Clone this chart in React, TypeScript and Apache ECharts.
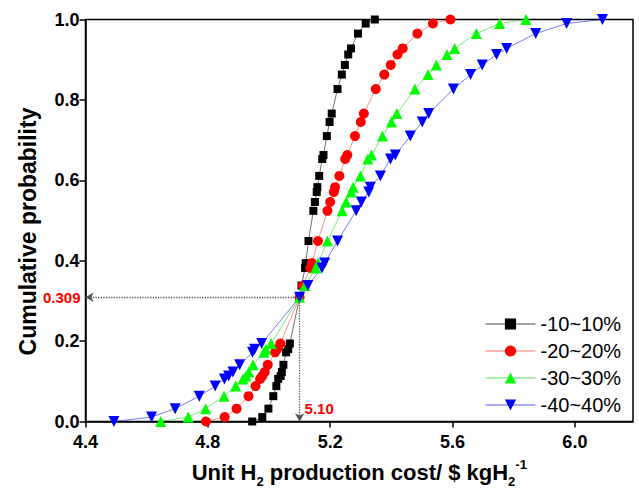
import React, { useEffect, useRef } from 'react';
import * as echarts from 'echarts';

// Cumulative probability levels (shared by all four ranges)
const probLevels = [0, 0.011, 0.032, 0.063, 0.088, 0.106, 0.113, 0.123, 0.141, 0.172, 0.18, 0.194, 0.309, 0.338, 0.382, 0.394, 0.449, 0.524, 0.546, 0.571, 0.583, 0.611, 0.653, 0.663, 0.71, 0.745, 0.766, 0.827, 0.863, 0.887, 0.913, 0.928, 0.965, 0.99, 1.0];

// Unit H2 production cost for each variation range
const cost10 = [4.945, 4.978, 4.998, 5.014, 5.024, 5.03, 5.038, 5.042, 5.047, 5.056, 5.063, 5.068, 5.1, 5.106, 5.118, 5.12, 5.129, 5.145, 5.15, 5.156, 5.158, 5.164, 5.174, 5.178, 5.189, 5.198, 5.205, 5.224, 5.238, 5.248, 5.259, 5.268, 5.291, 5.316, 5.346];
const cost20 = [4.794, 4.855, 4.894, 4.933, 4.956, 4.971, 4.978, 4.986, 4.996, 5.02, 5.026, 5.037, 5.1, 5.111, 5.135, 5.14, 5.16, 5.191, 5.2, 5.212, 5.216, 5.23, 5.249, 5.256, 5.281, 5.3, 5.31, 5.349, 5.377, 5.398, 5.42, 5.437, 5.485, 5.536, 5.593];
const cost30 = [4.646, 4.736, 4.793, 4.853, 4.891, 4.915, 4.925, 4.934, 4.948, 4.983, 4.99, 5.007, 5.1, 5.117, 5.153, 5.16, 5.191, 5.239, 5.252, 5.268, 5.275, 5.299, 5.323, 5.335, 5.371, 5.4, 5.418, 5.477, 5.52, 5.547, 5.582, 5.607, 5.678, 5.754, 5.84];
const cost40 = [4.493, 4.616, 4.693, 4.772, 4.824, 4.854, 4.868, 4.882, 4.904, 4.946, 4.953, 4.976, 5.1, 5.127, 5.173, 5.182, 5.224, 5.285, 5.302, 5.326, 5.331, 5.364, 5.397, 5.413, 5.462, 5.501, 5.522, 5.603, 5.659, 5.697, 5.744, 5.777, 5.872, 5.973, 6.09];

const seriesNames = ['-10~10%', '-20~20%', '-30~30%', '-40~40%'];
const markX = 5.1;
const markY = 0.309;
const markXLabel = '5.10';
const markYLabel = '0.309';

const FONT = 'Arial, "Liberation Sans", sans-serif';

export default function App() {
  const ref = useRef<HTMLDivElement>(null);
  useEffect(() => {
    document.body.style.margin = '0';
    const chart = echarts.init(ref.current!, null, { renderer: 'svg' });
    const mk = (xs: number[]) => xs.map((x, i) => [x, probLevels[i]]);
    const option: any = {
      animation: false,
      backgroundColor: '#fff',
      textStyle: { fontFamily: FONT },
      grid: {
        left: 85.5, right: 6, top: 19.5, bottom: 77.5,
        show: true, borderColor: '#000', borderWidth: 1.5, backgroundColor: 'transparent',
      },
      legend: {
        data: seriesNames,
        orient: 'vertical',
        left: 480,
        top: 309,
        itemWidth: 50,
        itemHeight: 14,
        itemGap: 7,
        lineStyle: { width: 1 },
        textStyle: { fontSize: 20, color: '#000', fontFamily: FONT },
      },
      xAxis: {
        type: 'value',
        min: 4.4,
        max: 6.19,
        interval: 0.4,
        axisLine: { show: true, onZero: false, lineStyle: { color: '#000', width: 1.5 } },
        axisTick: { show: true, length: 6, lineStyle: { color: '#000', width: 1.5 } },
        axisLabel: {
          fontSize: 18, fontWeight: 'bold', color: '#000', margin: 11, fontFamily: FONT,
          showMaxLabel: false,
          formatter: (v: number) => v.toFixed(1),
        },
        splitLine: { show: false },
        name: '{t|Unit H}{s|2}{t| production cost/ $ kgH}{s|2}{p|-1}',
        nameLocation: 'middle',
        nameGap: 36,
        nameTextStyle: {
          rich: {
            t: { fontSize: 22, fontWeight: 'bold', color: '#000', fontFamily: FONT, lineHeight: 30 },
            s: { fontSize: 13, fontWeight: 'bold', color: '#000', fontFamily: FONT, verticalAlign: 'bottom', lineHeight: 13 },
            p: { fontSize: 13, fontWeight: 'bold', color: '#000', fontFamily: FONT, verticalAlign: 'top', lineHeight: 13 },
          },
        },
      },
      yAxis: {
        type: 'value',
        min: 0,
        max: 1,
        interval: 0.2,
        axisLine: { show: true, onZero: false, lineStyle: { color: '#000', width: 1.5 } },
        axisTick: { show: true, length: 6, lineStyle: { color: '#000', width: 1.5 } },
        axisLabel: {
          fontSize: 18, fontWeight: 'bold', color: '#000', margin: 6, fontFamily: FONT,
          formatter: (v: number) => v.toFixed(1),
        },
        splitLine: { show: false },
        name: 'Cumulative probability',
        nameLocation: 'middle',
        nameGap: 46,
        nameTextStyle: { fontSize: 23, fontWeight: 'bold', color: '#000', fontFamily: FONT, padding: [0, 22, 0, 0] },
      },
      series: [
        {
          name: seriesNames[0], type: 'line', data: mk(cost10),
          symbol: 'rect', symbolSize: 8,
          itemStyle: { color: '#000' },
          lineStyle: { color: 'rgba(0,0,0,0.7)', width: 0.8 },
          markLine: {
            silent: true,
            symbol: ['none', 'arrow'],
            symbolSize: [7, 8],
            label: { show: false },
            lineStyle: { type: 'dotted', color: '#555', width: 1.3 },
            data: [
              [{ coord: [markX, markY] }, { coord: [4.4, markY] }],
              [{ coord: [markX, markY] }, { coord: [markX, 0] }],
            ],
          },
        },
        {
          name: seriesNames[1], type: 'line', data: mk(cost20),
          symbol: 'circle', symbolSize: 10,
          itemStyle: { color: '#ff0000' },
          lineStyle: { color: 'rgba(255,0,0,0.55)', width: 0.8 },
        },
        {
          name: seriesNames[2], type: 'line', data: mk(cost30),
          symbol: 'triangle', symbolSize: 11,
          itemStyle: { color: '#00ff00' },
          lineStyle: { color: 'rgba(0,210,0,0.65)', width: 0.8 },
        },
        {
          name: seriesNames[3], type: 'line', data: mk(cost40),
          symbol: 'triangle', symbolSize: 11, symbolRotate: 180,
          itemStyle: { color: '#0000ff' },
          lineStyle: { color: 'rgba(0,0,255,0.65)', width: 0.8 },
        },
      ],
    };
    chart.setOption(option);
    const pY = chart.convertToPixel({ gridIndex: 0 }, [4.4, markY]) as number[];
    const pX = chart.convertToPixel({ gridIndex: 0 }, [markX, 0]) as number[];
    chart.setOption({
      graphic: [
        {
          type: 'text', x: pY[0] - 5, y: pY[1],
          style: { text: markYLabel, fill: '#ff0000', font: `bold 15px ${FONT}`, textAlign: 'right', textVerticalAlign: 'middle' },
        },
        {
          type: 'text', x: pX[0] + 5, y: pX[1] - 13,
          style: { text: markXLabel, fill: '#ff0000', font: `bold 15px ${FONT}`, textAlign: 'left', textVerticalAlign: 'middle' },
        },
      ],
    });
    return () => chart.dispose();
  }, []);
  return <div ref={ref} style={{ width: 639, height: 499 }} />;
}
